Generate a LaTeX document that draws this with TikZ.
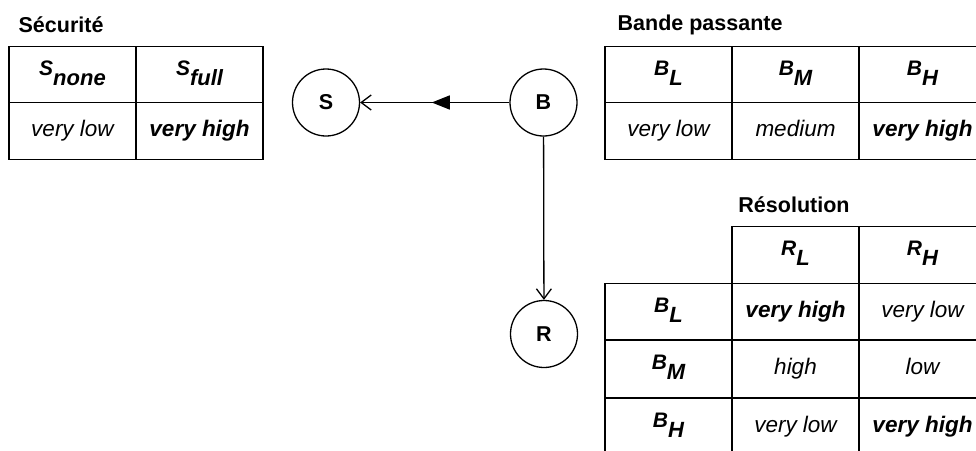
\documentclass[tikz,border=0pt]{standalone}
\usepackage{fontspec}
\setmainfont{Liberation Sans}
\usetikzlibrary{arrows.meta,decorations.markings}
\newcommand\cellhead[2]{\raisebox{5pt}{\fontsize{21}{23}\selectfont\bfseries\itshape #1}\raisebox{-5pt}{\fontsize{22}{26}\selectfont\bfseries\itshape #2}}
\begin{document}
\begin{tikzpicture}[x=1pt,y=-1pt,line width=1.3pt,
  cell/.style={draw, rectangle, minimum width=127pt, minimum height=56.5pt, inner sep=0pt, text height=16pt, text depth=5pt, font=\fontsize{22.5}{26}\selectfont\itshape},
  bcell/.style={cell, font=\fontsize{22.5}{26}\selectfont\bfseries\itshape},
  title/.style={font=\fontsize{21.5}{25}\selectfont\bfseries, inner sep=0pt},
  var/.style={draw, circle, minimum size=67pt, inner sep=0pt, font=\fontsize{21.5}{24}\selectfont\bfseries},
  edge/.style={-{Straight Barb[length=10pt,width=15pt,line width=1.3pt]}, line width=1.3pt}]
\clip (0,0) rectangle (976,450);
\fill[white] (0,0) rectangle (976,450);
% Securite
\node[title, anchor=west] (tS) at (18,25) {Sécurité};
\node[cell] (s1) at (72.5,74.5) {\cellhead{S}{none}};
\node[cell] (s2) at (199.5,74.5) {\cellhead{S}{full}};
\node[cell] (s3) at (72.5,131) {very low};
\node[bcell] (s4) at (199.5,131) {very high};
% Bande passante
\node[title, anchor=west] (tB) at (617,25) {Bande passante};
\node[cell] (b1) at (668.5,74.5) {\cellhead{B}{L}};
\node[cell] (b2) at (795.5,74.5) {\cellhead{B}{M}};
\node[cell] (b3) at (922.5,74.5) {\cellhead{B}{H}};
\node[cell] (b4) at (668.5,131) {very low};
\node[cell] (b5) at (795.5,131) {medium};
\node[bcell] (b6) at (922.5,131) {very high};
% Resolution
\node[title] (tR) at (794,205) {Résolution};
\node[cell] (r02) at (795.5,255) {\cellhead{R}{L}};
\node[cell] (r03) at (922.5,255) {\cellhead{R}{H}};
\node[cell] (r11) at (668.5,311.5) {\cellhead{B}{L}};
\node[bcell] (r12) at (795.5,311.5) {very high};
\node[cell] (r13) at (922.5,311.5) {very low};
\node[cell] (r21) at (668.5,369) {\cellhead{B}{M}};
\node[cell] (r22) at (795.5,369) {high};
\node[cell] (r23) at (922.5,369) {low};
\node[cell] (r31) at (668.5,426.5) {\cellhead{B}{H}};
\node[cell] (r32) at (795.5,426.5) {very low};
\node[bcell] (r33) at (922.5,426.5) {very high};
% graph
\node[var] (S) at (326,102.5) {S};
\node[var] (B) at (543.5,102.5) {B};
\node[var] (R) at (544,334) {R};
\draw[edge, postaction={decorate}, decoration={markings, mark=at position 0.52 with {\arrow{Triangle[length=18pt,width=14pt]}}}] (B) -- (S);
\draw[edge] (B) -- (R);
\end{tikzpicture}
\end{document}
